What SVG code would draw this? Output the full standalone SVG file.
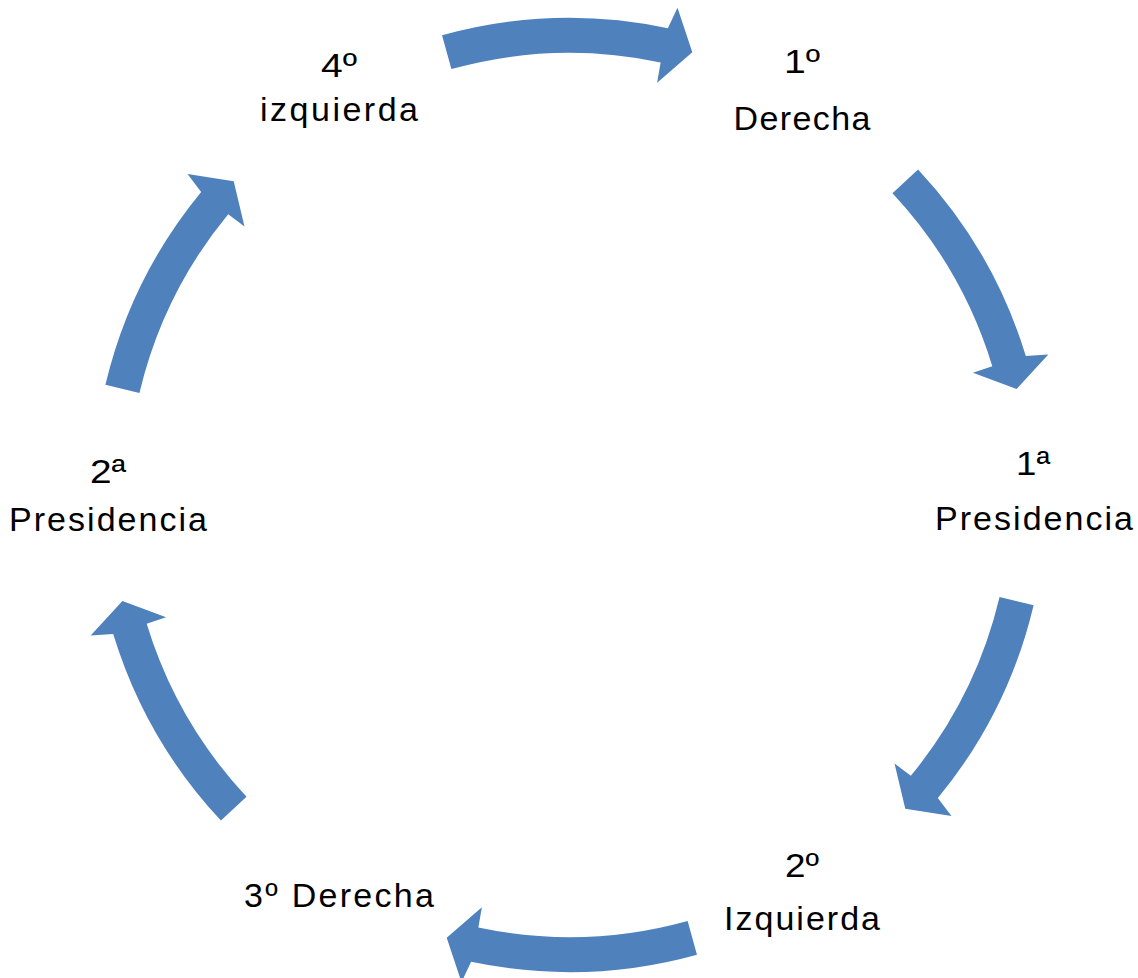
<svg xmlns="http://www.w3.org/2000/svg" xmlns:xlink="http://www.w3.org/1999/xlink" width="1138" height="978" viewBox="0 0 1138 978">
<style>
  .lbl { font-family: "Liberation Sans", Arial, sans-serif; font-size: 34px; fill: #000; text-anchor: middle; }
  .arr { fill: #4F81BD; stroke: none; }
</style>
<defs>
  <path id="arrT" class="arr" d="M459.65,-127.47 A477,477 0 0 1 466.75,98.36 L487.17,108.00 L442.79,122.80 L412.29,87.63 L432.50,91.14 A442,442 0 0 0 425.92,-118.12 Z"/>
  <path id="arrS" class="arr" d="M461.07,-122.25 A477,477 0 0 1 467.84,93.06 L488.37,102.47 L444.15,117.76 L413.26,82.95 L433.51,86.23 A442,442 0 0 0 427.24,-113.28 Z"/>
</defs>
<rect width="1138" height="978" fill="#fff"/>
<g id="connectors">
  <use xlink:href="#arrT" transform="translate(569.5,495) rotate(-90)"/>
  <use xlink:href="#arrS" transform="translate(569.5,495) rotate(-28.2)"/>
  <use xlink:href="#arrS" transform="translate(569.5,495) rotate(28.2)"/>
  <use xlink:href="#arrT" transform="translate(569.5,495) rotate(90)"/>
  <use xlink:href="#arrS" transform="translate(569.5,495) rotate(151.8)"/>
  <use xlink:href="#arrS" transform="translate(569.5,495) rotate(208.2)"/>
</g>
<g id="node-1-derecha">
  <text class="lbl" x="802" y="73" textLength="36" lengthAdjust="spacingAndGlyphs">1º</text>
  <text class="lbl" x="802" y="130" textLength="137" lengthAdjust="spacing">Derecha</text>
</g>
<g id="node-1-presidencia">
  <text class="lbl" x="1033" y="475" textLength="34" lengthAdjust="spacingAndGlyphs">1ª</text>
  <text class="lbl" x="1034" y="530" textLength="198" lengthAdjust="spacing">Presidencia</text>
</g>
<g id="node-2-izquierda">
  <text class="lbl" x="802" y="877" textLength="34" lengthAdjust="spacingAndGlyphs">2º</text>
  <text class="lbl" x="802" y="930" textLength="156" lengthAdjust="spacing">Izquierda</text>
</g>
<g id="node-3-derecha">
  <text class="lbl" x="339" y="907" textLength="190" lengthAdjust="spacing">3º Derecha</text>
</g>
<g id="node-2-presidencia">
  <text class="lbl" x="108" y="483" textLength="36" lengthAdjust="spacingAndGlyphs">2ª</text>
  <text class="lbl" x="108" y="531" textLength="198" lengthAdjust="spacing">Presidencia</text>
</g>
<g id="node-4-izquierda">
  <text class="lbl" x="339" y="77" textLength="36" lengthAdjust="spacingAndGlyphs">4º</text>
  <text class="lbl" x="339" y="121" textLength="158" lengthAdjust="spacing">izquierda</text>
</g>
</svg>
